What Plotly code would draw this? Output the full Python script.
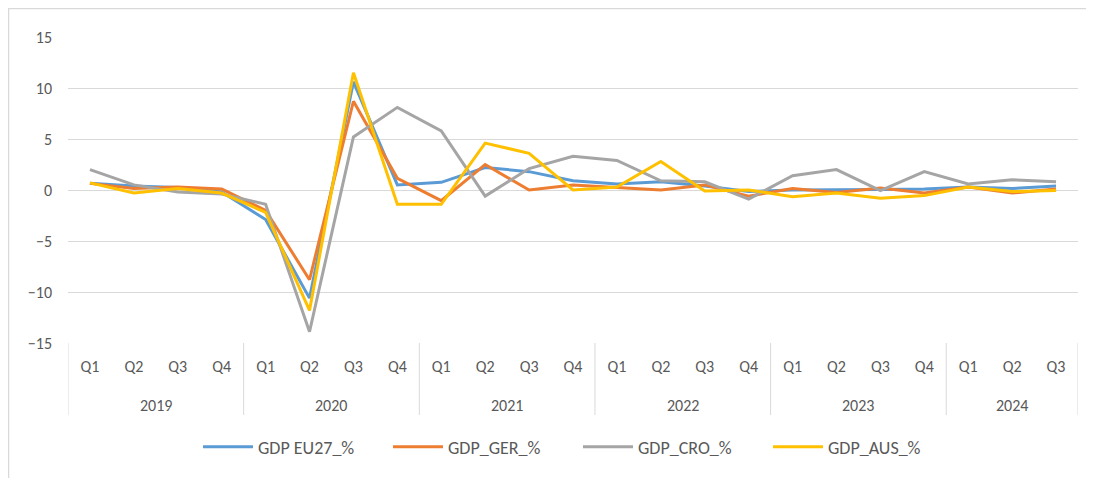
import plotly.graph_objects as go

years = ["2019", "2020", "2021", "2022", "2023", "2024"]
quarters = ["Q1", "Q2", "Q3", "Q4"] * 5 + ["Q1", "Q2", "Q3"]

gdp_eu27 = [0.65, 0.4, 0.25, -0.2, -2.9, -10.6, 10.6, 0.5,
            0.75, 2.2, 1.8, 0.9, 0.6, 0.8, 0.4, -0.15,
            0.0, 0.0, 0.05, 0.1, 0.3, 0.15, 0.4]
gdp_ger = [0.65, 0.15, 0.3, 0.1, -2.0, -8.8, 8.7, 1.15,
           -1.05, 2.5, 0.0, 0.5, 0.25, 0.0, 0.5, -0.6,
           0.15, -0.25, 0.2, -0.3, 0.3, -0.3, 0.1]
gdp_cro = [2.0, 0.5, -0.2, -0.4, -1.4, -13.9, 5.2, 8.1,
           5.8, -0.6, 2.1, 3.3, 2.9, 0.9, 0.8, -0.9,
           1.4, 2.0, -0.05, 1.8, 0.6, 1.0, 0.8]
gdp_aus = [0.7, -0.3, 0.15, -0.3, -2.2, -11.8, 11.5, -1.4,
           -1.4, 4.6, 3.6, 0.0, 0.3, 2.8, -0.1, 0.0,
           -0.65, -0.3, -0.8, -0.55, 0.3, -0.15, -0.05]

series = [
    ("GDP EU27_%", gdp_eu27, "#5B9BD5"),
    ("GDP_GER_%", gdp_ger, "#ED7D31"),
    ("GDP_CRO_%", gdp_cro, "#A5A5A5"),
    ("GDP_AUS_%", gdp_aus, "#FFC000"),
]

xs = list(range(len(quarters)))
FONT = "Carlito, Calibri, Lato, sans-serif"
TXT = "#595959"
GRID = "#D9D9D9"

fig = go.Figure()
for name, vals, col in series:
    fig.add_trace(go.Scatter(x=xs, y=vals, mode="lines", name=name,
                             line=dict(color=col, width=3)))

# page has an 8px body margin; work in figure coordinates (page - 8)
OFF = 8
W, H = 1094 - OFF, 478 - OFF
L, R, T, B = 68 - OFF, 1078 - OFF, 37 - OFF, 343 - OFF
pw, ph = R - L, B - T

def px_x(p):
    return (p - OFF - L) / pw

def px_y(p):
    return (B - (p - OFF)) / ph

shapes = []
n_per = [4, 4, 4, 4, 4, 3]
bounds = [-0.5]
acc = -0.5
for n in n_per:
    acc += n
    bounds.append(acc)
for b in bounds:
    shapes.append(dict(type="line", xref="x", yref="paper", x0=b, x1=b,
                       y0=0, y1=px_y(415), line=dict(color=GRID, width=1)))
# outer chart border (top-left corner visible)
shapes.append(dict(type="rect", xref="paper", yref="paper",
                   x0=px_x(8.5), x1=px_x(1110), y0=px_y(8.5), y1=px_y(500),
                   line=dict(color=GRID, width=1.5), layer="below"))

annotations = []
start = 0
for yr, n in zip(years, n_per):
    center = start + (n - 1) / 2
    annotations.append(dict(x=center, y=px_y(405), xref="x", yref="paper",
                            text=yr, showarrow=False, yanchor="middle",
                            font=dict(family=FONT, size=16, color=TXT)))
    start += n

fig.update_layout(
    width=W, height=H,
    margin=dict(l=L, r=W - R, t=T, b=H - B),
    paper_bgcolor="white", plot_bgcolor="white",
    font=dict(family=FONT, size=16, color=TXT),
    showlegend=True,
    legend=dict(orientation="h", x=px_x(578), y=px_y(447), xanchor="center",
                yanchor="middle", font=dict(family=FONT, size=18, color=TXT),
                itemwidth=50, entrywidth=125, tracegroupgap=0),
    shapes=shapes,
    annotations=annotations,
)
fig.update_xaxes(range=[-0.5, len(quarters) - 0.5], tickmode="array",
                 tickvals=xs, ticktext=quarters, showgrid=False,
                 zeroline=False, showline=False, ticks="",
                 ticklabelstandoff=12,
                 tickfont=dict(family=FONT, size=16, color=TXT))
fig.update_yaxes(range=[-15, 15], dtick=5, tick0=0, showgrid=True,
                 gridcolor=GRID, gridwidth=1, zeroline=False,
                 showline=False, ticks="", ticklabelstandoff=15,
                 tickfont=dict(family=FONT, size=16, color=TXT))

fig.write_html("out.html")
